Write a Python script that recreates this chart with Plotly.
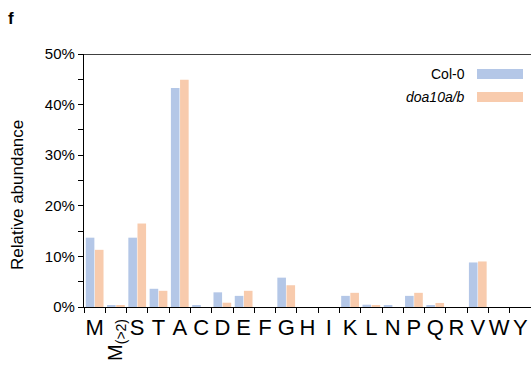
import plotly.graph_objects as go

categories = ["M", "M(>2)", "S", "T", "A", "C", "D", "E", "F", "G", "H", "I",
              "K", "L", "N", "P", "Q", "R", "V", "W", "Y"]
col0 = [13.7, 0.4, 13.7, 3.6, 43.3, 0.4, 2.9, 2.2, 0, 5.8, 0, 0,
        2.2, 0.45, 0.4, 2.2, 0.4, 0, 8.8, 0, 0]
doa = [11.3, 0.4, 16.5, 3.2, 44.9, 0, 0.85, 3.2, 0, 4.3, 0, 0,
       2.8, 0.4, 0, 2.8, 0.8, 0, 9.0, 0, 0]
tick_text = ["" if c == "M(>2)" else c for c in categories]
ytick_vals = [0, 10, 20, 30, 40, 50]
ytick_text = ["0%", "10%", "20%", "30%", "40%", "50%"]

FONT = "Arial, Liberation Sans, sans-serif"
BLUE = "#B4C7E7"
ORANGE = "#F8CBAD"

fig = go.Figure()
fig.add_bar(x=categories, y=col0, name="Col-0", marker=dict(color=BLUE, line=dict(width=0)))
fig.add_bar(x=categories, y=doa, name="doa10a/b", marker=dict(color=ORANGE, line=dict(width=0)))

W, H = 531, 365
L, R, T, B = 84, 0, 54, 58
pw, ph = W - L - R, H - T - B

def px(x):
    return (x - L) / pw

def py(y):
    return (H - B - y) / ph

fig.update_layout(
    width=W, height=H,
    margin=dict(l=L, r=R, t=T, b=B),
    paper_bgcolor="white", plot_bgcolor="white",
    barmode="group", bargap=0.14, bargroupgap=0.06,
    showlegend=False,
    font=dict(family=FONT, color="black"),
)
fig.update_xaxes(
    type="category", range=[-0.5, 20.5], automargin=False,
    tickvals=categories, ticktext=tick_text, tickangle=0,
    tickfont=dict(size=22, family=FONT, color="black"),
    showline=True, linecolor="black", linewidth=1.3,
    ticks="outside", tickson="boundaries", ticklen=5, tickcolor="black", tickwidth=1,
    showgrid=False, zeroline=False, fixedrange=True,
)
fig.update_yaxes(
    range=[0, 50], tickvals=ytick_vals, ticktext=ytick_text, automargin=False,
    tickfont=dict(size=15, family=FONT, color="black"),
    showline=True, linecolor="black", linewidth=1.3,
    ticks="outside", ticklen=5, tickcolor="black", tickwidth=1,
    minor=dict(dtick=5, tick0=0, ticks="outside", ticklen=5, tickcolor="black", tickwidth=1, showgrid=False),
    showgrid=False, zeroline=False,
)
# top border line at 50%
fig.add_shape(type="line", xref="paper", yref="y", x0=0, x1=1, y0=50, y1=50,
              line=dict(color="black", width=1.3))

# y title
fig.add_annotation(text="Relative abundance", xref="paper", yref="paper",
                   x=px(17), y=py(195), textangle=-90, showarrow=False,
                   xanchor="center", yanchor="middle",
                   font=dict(size=17, family=FONT, color="black"))
# rotated M(>2) label
fig.add_annotation(text="M<sub>(&gt;2)</sub>", xref="x", yref="paper",
                   x="M(>2)", y=py(317), textangle=-90, showarrow=False,
                   xanchor="center", yanchor="top",
                   font=dict(size=20, family=FONT, color="black"))
# panel letter
fig.add_annotation(text="<b>f</b>", xref="paper", yref="paper",
                   x=px(6), y=py(19), showarrow=False, xanchor="left", yanchor="middle",
                   font=dict(size=17, family=FONT, color="black"))

# legend (text left of swatch)
legend_items = [("Col-0", BLUE, 74), ("<i>doa10a/b</i>", ORANGE, 97)]
for label, color, yc in legend_items:
    fig.add_annotation(text=label, xref="paper", yref="paper",
                       x=px(467), y=py(yc), showarrow=False, xanchor="right", yanchor="middle",
                       font=dict(size=14, family=FONT, color="black"))
    fig.add_shape(type="rect", xref="paper", yref="paper",
                  x0=px(477), x1=px(523), y0=py(yc + 5), y1=py(yc - 5),
                  fillcolor=color, line=dict(width=0))

fig.write_html("out.html", config={"displayModeBar": False},
               post_script="document.body.style.margin='0';")
